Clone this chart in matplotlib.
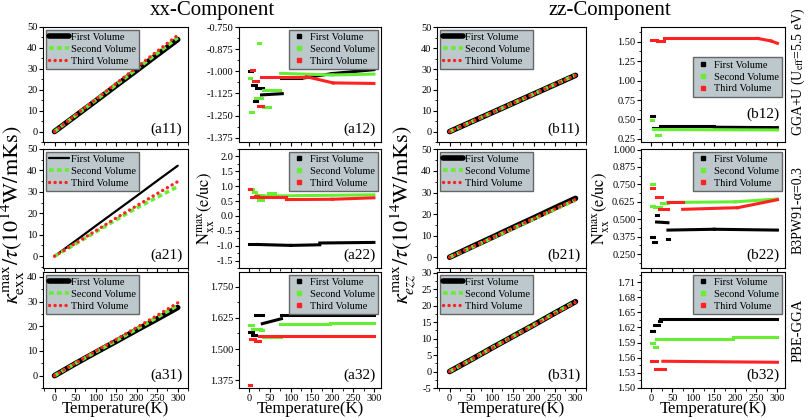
import matplotlib
matplotlib.use('Agg')
import matplotlib.pyplot as plt
from matplotlib.lines import Line2D
from matplotlib.ticker import MultipleLocator, FormatStrFormatter

plt.rcParams['font.family'] = ['Liberation Serif', 'DejaVu Serif']
plt.rcParams['mathtext.fontset'] = 'stix'

# linear panels: kappa vs temperature
T_lin = [0, 50, 100, 150, 200, 250, 300]
a11_first = [0, 7.3, 14.6, 22.0, 29.3, 36.7, 44.0]
a11_second = [0, 7.5, 15.0, 22.4, 29.9, 37.4, 44.9]
a11_third = [0, 7.7, 15.3, 23.0, 30.7, 38.4, 46.1]
a21_first = [0, 7.0, 14.1, 21.1, 28.1, 35.2, 42.2]
a21_second = [0, 5.6, 11.3, 17.0, 22.5, 27.5, 32.5]
a21_third = [0, 5.9, 11.8, 17.8, 23.5, 29.2, 34.8]
a31_first = [0, 4.8, 9.4, 13.9, 18.5, 23.0, 27.6]
a31_second = [0, 4.9, 9.6, 14.2, 18.9, 23.6, 28.5]
a31_third = [0, 5.0, 9.9, 14.7, 19.5, 24.4, 29.5]
b11_first = [0, 4.5, 9.0, 13.5, 18.0, 22.5, 27.0]
b11_second = [0, 4.5, 9.0, 13.5, 18.0, 22.6, 27.1]
b11_third = [0, 4.5, 9.0, 13.5, 18.0, 22.5, 27.0]
b21_first = [0, 4.6, 9.1, 13.7, 18.2, 22.8, 27.3]
b21_second = [0, 4.4, 8.8, 13.3, 17.7, 22.1, 26.5]
b21_third = [0, 4.5, 8.9, 13.4, 17.9, 22.3, 26.8]
b31_first = [0, 3.5, 7.1, 10.6, 14.1, 17.7, 21.2]
b31_second = [0, 3.5, 7.1, 10.6, 14.1, 17.7, 21.2]
b31_third = [0, 3.5, 7.0, 10.5, 14.0, 17.5, 21.0]

# step panels: (T start, T end, N start, N end)
a12_first = [(0, 8, -0.995, -0.995), (8, 16, -1.078, -1.078), (12, 20, -1.165, -1.165),
             (18, 34, -1.096, -1.096), (30, 80, -1.133, -1.126), (78, 126, -1.039, -1.039),
             (126, 200, -1.039, -1.012), (200, 300, -1.012, -0.99)]
a12_second = [(0, 6, -1.035, -1.035), (3, 9, -1.23, -1.23), (22, 26, -0.84, -0.84),
              (14, 32, -1.152, -1.152), (34, 74, -1.106, -1.106), (34, 50, -1.2, -1.2),
              (76, 200, -1.011, -1.02), (200, 300, -1.02, -1.015)]
a12_third = [(6, 12, -0.99, -0.99), (10, 22, -1.054, -1.054), (22, 34, -1.196, -1.196),
             (30, 138, -1.03, -1.03), (138, 202, -1.03, -1.065), (202, 300, -1.065, -1.068)]

a22_first = [(0, 20, -0.93, -0.93), (20, 100, -0.96, -0.99), (100, 170, -0.99, -0.97),
             (170, 300, -0.91, -0.89)]
a22_second = [(0, 10, 0.9, 0.9), (10, 18, 0.81, 0.81), (18, 34, 0.7, 0.7), (22, 34, 0.55, 0.55),
              (46, 62, 0.76, 0.76), (34, 300, 0.67, 0.71)]
a22_third = [(0, 6, 0.9, 0.9), (6, 18, 0.62, 0.62), (14, 22, 0.68, 0.68), (22, 90, 0.62, 0.62),
             (90, 200, 0.55, 0.56), (200, 300, 0.56, 0.61)]

a32_first = [(0, 10, 1.569, 1.569), (7, 18, 1.555, 1.555), (14, 34, 1.638, 1.638),
             (32, 78, 1.602, 1.622), (78, 300, 1.636, 1.636)]
a32_second = [(0, 10, 1.595, 1.595), (7, 30, 1.582, 1.582), (26, 34, 1.575, 1.575),
              (34, 78, 1.547, 1.547), (74, 194, 1.600, 1.600), (194, 300, 1.605, 1.605)]
a32_third = [(0, 6, 1.354, 1.354), (3, 14, 1.539, 1.539), (14, 26, 1.534, 1.534),
             (24, 300, 1.552, 1.552)]

b12_first = [(0, 7, 0.55, 0.55), (5, 20, 0.385, 0.385), (20, 150, 0.41, 0.41), (150, 300, 0.40, 0.395)]
b12_second = [(0, 5, 0.49, 0.49), (5, 15, 0.38, 0.38), (12, 22, 0.305, 0.305), (22, 300, 0.37, 0.365)]
b12_third = [(0, 15, 1.517, 1.517), (15, 30, 1.51, 1.51), (30, 253, 1.543, 1.543),
             (253, 285, 1.543, 1.51), (285, 300, 1.51, 1.48)]

b22_first = [(0, 6, 0.375, 0.375), (5, 12, 0.333, 0.333), (11, 17, 0.53, 0.53), (13, 40, 0.48, 0.475),
             (37, 43, 0.36, 0.36), (40, 150, 0.422, 0.428), (150, 300, 0.428, 0.422)]
b22_second = [(0, 6, 0.75, 0.75), (0, 7, 0.598, 0.598), (7, 23, 0.59, 0.59), (23, 39, 0.615, 0.615),
              (39, 200, 0.62, 0.625), (200, 300, 0.625, 0.645)]
b22_third = [(0, 6, 0.725, 0.725), (11, 27, 0.66, 0.66), (19, 39, 0.571, 0.571), (39, 75, 0.627, 0.627),
             (75, 206, 0.571, 0.583), (206, 300, 0.583, 0.64)]

b32_first = [(0, 7, 1.613, 1.613), (6, 18, 1.625, 1.625), (18, 24, 1.632, 1.632), (20, 300, 1.636, 1.636)]
b32_second = [(0, 7, 1.590, 1.590), (6, 13, 1.581, 1.581), (12, 194, 1.598, 1.598), (194, 300, 1.602, 1.602)]
b32_third = [(0, 15, 1.553, 1.553), (10, 34, 1.537, 1.537), (28, 300, 1.553, 1.551)]

labels = ['First Volume', 'Second Volume', 'Third Volume']
BLACK, GREEN, RED = '#000000', '#66ee33', '#ff2222'
LEG_BG = '#bcc8cc'

fig = plt.figure(figsize=(8.08, 4.2), dpi=100)
W, H = 808, 420
cols = [(43, 188), (239, 381), (437, 586), (641, 785)]
rows = [(27, 142), (149, 268), (272, 388)]
xlims = [(-28, 325), (-24, 317), (-30, 325), (-24, 318)]


def make_ax(c, r, ylim, major, minor, fmt, tag, tag_y=0.05):
    l, rt = cols[c]
    t, b = rows[r]
    ax = fig.add_axes([l / W, 1 - b / H, (rt - l) / W, (b - t) / H])
    ax.set_xlim(*xlims[c])
    ax.set_ylim(*ylim)
    ax.xaxis.set_major_locator(MultipleLocator(50))
    ax.xaxis.set_minor_locator(MultipleLocator(25))
    ax.yaxis.set_major_locator(MultipleLocator(major))
    ax.yaxis.set_minor_locator(MultipleLocator(minor))
    ax.yaxis.set_major_formatter(FormatStrFormatter(fmt))
    ax.tick_params(which='both', direction='out', labelsize=7.5, pad=1)
    ax.tick_params(which='major', length=3)
    ax.tick_params(which='minor', length=1.8)
    if r < 2:
        ax.tick_params(axis='x', labelbottom=False)
    else:
        ax.set_xlabel('Temperature(K)', fontsize=12, labelpad=-1)
    ax.text(0.96, tag_y, tag, transform=ax.transAxes, ha='right', va='bottom', fontsize=11)
    return ax


def linear(ax, first, second, third, thin=False):
    ax.plot(T_lin, first, color=BLACK, lw=1.6 if thin else 4, solid_capstyle='round', label=labels[0])
    ax.plot(T_lin, second, color=GREEN, lw=2.6, linestyle=(0, (1.3, 0.9)), label=labels[1])
    ax.plot(T_lin, third, color=RED, lw=2.4, linestyle=(0, (0.05, 1.6)),
            dash_capstyle='round', label=labels[2])
    ax.legend(loc='upper left', fontsize=7.5, handlelength=1.9, handletextpad=0.2,
              borderpad=0.3, labelspacing=0.25, borderaxespad=0.25, fancybox=False,
              framealpha=1, facecolor=LEG_BG, edgecolor='#666666')


def steps(ax, first, second, third, anchor=(1.0, 1.0)):
    for segs, col in [(first, BLACK), (second, GREEN), (third, RED)]:
        for t0, t1, v0, v1 in segs:
            ax.plot([t0, t1], [v0, v1], color=col, lw=2.2, solid_capstyle='projecting')
    handles = [Line2D([], [], color=col, marker='s', ls='none', markersize=3)
               for col in (BLACK, GREEN, RED)]
    ax.legend(handles, labels, loc='upper right', bbox_to_anchor=anchor, fontsize=7.5,
              handlelength=1.2, handletextpad=0.5, borderpad=0.3, labelspacing=0.25,
              borderaxespad=0.25, fancybox=False, framealpha=1, facecolor=LEG_BG,
              edgecolor='#666666')


ax = make_ax(0, 0, (-5, 50), 10, 5, '%d', '(a11)')
linear(ax, a11_first, a11_second, a11_third)
ax = make_ax(0, 1, (-5.5, 50), 10, 5, '%d', '(a21)')
linear(ax, a21_first, a21_second, a21_third, thin=True)
ax = make_ax(0, 2, (-5, 42), 10, 5, '%d', '(a31)')
linear(ax, a31_first, a31_second, a31_third)

ax = make_ax(1, 0, (-1.40, -0.748), 0.125, 0.0625, '%.3f', '(a12)')
steps(ax, a12_first, a12_second, a12_third)
ax = make_ax(1, 1, (-1.75, 2.25), 0.5, 0.25, '%.1f', '(a22)')
steps(ax, a22_first, a22_second, a22_third)
ax.set_ylabel(r'$\mathrm{N^{max}_{xx}(e/uc)}$', fontsize=12, labelpad=0)
ax = make_ax(1, 2, (1.343, 1.81), 0.125, 0.0625, '%.3f', '(a32)')
steps(ax, a32_first, a32_second, a32_third)

ax = make_ax(2, 0, (-5, 50.2), 10, 5, '%d', '(b11)')
linear(ax, b11_first, b11_second, b11_third)
ax = make_ax(2, 1, (-5, 50.2), 10, 5, '%d', '(b21)')
linear(ax, b21_first, b21_second, b21_third)
ax = make_ax(2, 2, (-5, 30.2), 5, 2.5, '%d', '(b31)')
linear(ax, b31_first, b31_second, b31_third)

ax = make_ax(3, 0, (0.21, 1.69), 0.25, 0.125, '%.2f', '(b12)', tag_y=0.18)
steps(ax, b12_first, b12_second, b12_third, anchor=(1.0, 0.76))
ax = make_ax(3, 1, (0.15, 1.004), 0.125, 0.0625, '%.3f', '(b22)')
steps(ax, b22_first, b22_second, b22_third)
ax.set_ylabel(r'$\mathrm{N^{max}_{xx}(e/uc)}$', fontsize=12, labelpad=0)
ax = make_ax(3, 2, (1.50, 1.73), 0.03, 0.015, '%.2f', '(b32)')
steps(ax, b32_first, b32_second, b32_third)

fig.text(212 / W, 1 - 11 / H, 'xx-Component', ha='center', va='center', fontsize=15)
fig.text(610 / W, 1 - 11 / H, 'zz-Component', ha='center', va='center', fontsize=15)
fig.text(13 / W, 1 - 215 / H, r'$\kappa^{\mathrm{max}}_{\mathrm{exx}}/\tau(10^{14}\mathrm{W/mKs})$',
         rotation=90, ha='center', va='center', fontsize=16)
fig.text(404 / W, 1 - 215 / H, r'$\kappa^{\mathrm{max}}_{ezz}/\tau(10^{14}\mathrm{W/mKs})$',
         rotation=90, ha='center', va='center', fontsize=16)
fig.text(798 / W, 1 - 72 / H, r'GGA+U (U$_{\mathrm{eff}}$=5.5 eV)', rotation=90,
         ha='center', va='center', fontsize=10)
fig.text(798 / W, 1 - 210 / H, 'B3PW91-α=0.3', rotation=90, ha='center', va='center', fontsize=10)
fig.text(798 / W, 1 - 330 / H, 'PBE-GGA', rotation=90, ha='center', va='center', fontsize=10.5)

fig.savefig('out.png', dpi=100)
